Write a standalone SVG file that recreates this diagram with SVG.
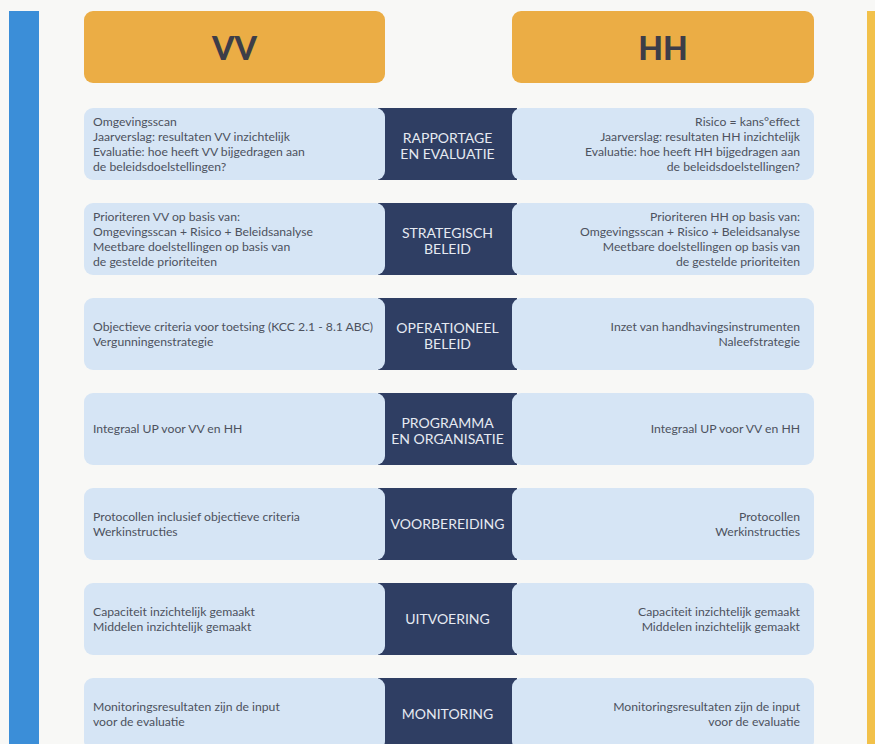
<svg xmlns="http://www.w3.org/2000/svg" width="875" height="744" viewBox="0 0 875 744">
<style>
.bg{fill:#f8f8f6}
.hdr{fill:#ebad45}
.lt{fill:#d6e5f5}
.dk{fill:#2f3e63}
.ht{font-family:Lato,"Open Sans",sans-serif;font-weight:900;font-size:32px;fill:#3d3d48;text-anchor:middle}
.tx{font-family:Lato,"Open Sans",sans-serif;font-size:12.2px;fill:#4d525e}
.tl{text-anchor:start}
.tr{text-anchor:end}
.lb{font-family:Lato,"Open Sans",sans-serif;font-size:14px;fill:#e6eaf2;text-anchor:middle}
</style>
<rect class="bg" x="0" y="0" width="875" height="744"/>
<rect x="9" y="11" width="30" height="733" fill="#3b8ed8"/>
<rect x="867" y="11" width="8" height="733" fill="#f2c14a"/>

<g id="header-vv"><rect class="hdr" x="84" y="11" width="301" height="72" rx="9"/><text class="ht" x="234.5" y="60">VV</text></g>
<g id="header-hh"><rect class="hdr" x="512" y="11" width="302" height="72" rx="9"/><text class="ht" x="663" y="60">HH</text></g>

<g id="row1">
<rect class="dk" x="378" y="108" width="139" height="72"/>
<rect class="lt" x="84" y="108" width="301" height="72" rx="9"/>
<rect class="lt" x="512" y="108" width="302" height="72" rx="9"/>
<text class="lb" x="447.5" y="143">RAPPORTAGE</text>
<text class="lb" x="447.5" y="159">EN EVALUATIE</text>
<text class="tx tl" x="93" y="125.5">Omgevingsscan</text>
<text class="tx tl" x="93" y="140.5">Jaarverslag: resultaten VV inzichtelijk</text>
<text class="tx tl" x="93" y="155.5">Evaluatie: hoe heeft VV bijgedragen aan</text>
<text class="tx tl" x="93" y="170.5">de beleidsdoelstellingen?</text>
<text class="tx tr" x="800" y="125.5">Risico = kans°effect</text>
<text class="tx tr" x="800" y="140.5">Jaarverslag: resultaten HH inzichtelijk</text>
<text class="tx tr" x="800" y="155.5">Evaluatie: hoe heeft HH bijgedragen aan</text>
<text class="tx tr" x="800" y="170.5">de beleidsdoelstellingen?</text>
</g>

<g id="row2">
<rect class="dk" x="378" y="203" width="139" height="72"/>
<rect class="lt" x="84" y="203" width="301" height="72" rx="9"/>
<rect class="lt" x="512" y="203" width="302" height="72" rx="9"/>
<text class="lb" x="447.5" y="238">STRATEGISCH</text>
<text class="lb" x="447.5" y="254">BELEID</text>
<text class="tx tl" x="93" y="220.5">Prioriteren VV op basis van:</text>
<text class="tx tl" x="93" y="235.5">Omgevingsscan + Risico + Beleidsanalyse</text>
<text class="tx tl" x="93" y="250.5">Meetbare doelstellingen op basis van</text>
<text class="tx tl" x="93" y="265.5">de gestelde prioriteiten</text>
<text class="tx tr" x="800" y="220.5">Prioriteren HH op basis van:</text>
<text class="tx tr" x="800" y="235.5">Omgevingsscan + Risico + Beleidsanalyse</text>
<text class="tx tr" x="800" y="250.5">Meetbare doelstellingen op basis van</text>
<text class="tx tr" x="800" y="265.5">de gestelde prioriteiten</text>
</g>

<g id="row3">
<rect class="dk" x="378" y="298" width="139" height="72"/>
<rect class="lt" x="84" y="298" width="301" height="72" rx="9"/>
<rect class="lt" x="512" y="298" width="302" height="72" rx="9"/>
<text class="lb" x="447.5" y="333">OPERATIONEEL</text>
<text class="lb" x="447.5" y="349">BELEID</text>
<text class="tx tl" x="93" y="330.5">Objectieve criteria voor toetsing (KCC 2.1 - 8.1 ABC)</text>
<text class="tx tl" x="93" y="345.5">Vergunningenstrategie</text>
<text class="tx tr" x="800" y="330.5">Inzet van handhavingsinstrumenten</text>
<text class="tx tr" x="800" y="345.5">Naleefstrategie</text>
</g>

<g id="row4">
<rect class="dk" x="378" y="393" width="139" height="72"/>
<rect class="lt" x="84" y="393" width="301" height="72" rx="9"/>
<rect class="lt" x="512" y="393" width="302" height="72" rx="9"/>
<text class="lb" x="447.5" y="428">PROGRAMMA</text>
<text class="lb" x="447.5" y="444">EN ORGANISATIE</text>
<text class="tx tl" x="93" y="433">Integraal UP voor VV en HH</text>
<text class="tx tr" x="800" y="433">Integraal UP voor VV en HH</text>
</g>

<g id="row5">
<rect class="dk" x="378" y="488" width="139" height="72"/>
<rect class="lt" x="84" y="488" width="301" height="72" rx="9"/>
<rect class="lt" x="512" y="488" width="302" height="72" rx="9"/>
<text class="lb" x="447.5" y="529">VOORBEREIDING</text>
<text class="tx tl" x="93" y="520.5">Protocollen inclusief objectieve criteria</text>
<text class="tx tl" x="93" y="535.5">Werkinstructies</text>
<text class="tx tr" x="800" y="520.5">Protocollen</text>
<text class="tx tr" x="800" y="535.5">Werkinstructies</text>
</g>

<g id="row6">
<rect class="dk" x="378" y="583" width="139" height="72"/>
<rect class="lt" x="84" y="583" width="301" height="72" rx="9"/>
<rect class="lt" x="512" y="583" width="302" height="72" rx="9"/>
<text class="lb" x="447.5" y="624">UITVOERING</text>
<text class="tx tl" x="93" y="615.5">Capaciteit inzichtelijk gemaakt</text>
<text class="tx tl" x="93" y="630.5">Middelen inzichtelijk gemaakt</text>
<text class="tx tr" x="800" y="615.5">Capaciteit inzichtelijk gemaakt</text>
<text class="tx tr" x="800" y="630.5">Middelen inzichtelijk gemaakt</text>
</g>

<g id="row7">
<rect class="dk" x="378" y="678" width="139" height="72"/>
<rect class="lt" x="84" y="678" width="301" height="72" rx="9"/>
<rect class="lt" x="512" y="678" width="302" height="72" rx="9"/>
<text class="lb" x="447.5" y="719">MONITORING</text>
<text class="tx tl" x="93" y="710.5">Monitoringsresultaten zijn de input</text>
<text class="tx tl" x="93" y="725.5">voor de evaluatie</text>
<text class="tx tr" x="800" y="710.5">Monitoringsresultaten zijn de input</text>
<text class="tx tr" x="800" y="725.5">voor de evaluatie</text>
</g>
<g id="connectors"/>
</svg>
